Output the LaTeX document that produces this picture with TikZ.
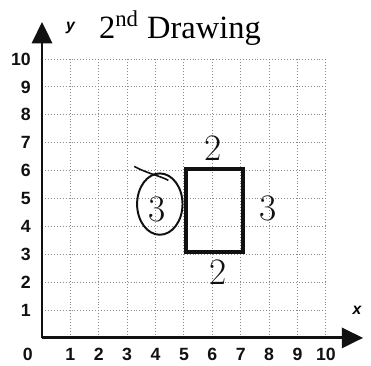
\documentclass[tikz,border=0pt]{standalone}
\usepackage{fontspec}
\usepackage{tikz}
\usetikzlibrary{arrows.meta, positioning, calc}
\newfontfamily\numfont{Liberation Sans}
\newfontfamily\titlefont{Liberation Serif}
\definecolor{gridc}{HTML}{8A8A8A}
\definecolor{ink}{HTML}{111111}

\begin{document}
\begin{tikzpicture}[
        x=0.507cm, y=0.498cm,
        grd/.style={gridc, densely dotted, line width=0.5pt},
        ax/.style={ink, line width=1.5pt, -{Triangle[length=3.8mm, width=3.6mm]}},
        num/.style={font=\numfont\fontsize{9}{10}\selectfont\bfseries, text=ink},
        hand/.style={font=\fontsize{19}{20}\selectfont, text=ink},
        shp/.style={ink, line width=2pt},
      ]
      \useasboundingbox (-1.48,-1.0) rectangle (11.59,12.12);

      % Grid
      \foreach \i in {1,...,10} {
        \draw[grd] (\i,0) -- (\i,10);
        \draw[grd] (0,\i) -- (10,\i);
      }

      % Axes
      \coordinate (O) at (0,0);
      \coordinate (xend) at (11.31,0);
      \coordinate (yend) at (0,11.33);
      \draw[ax] (O) -- (xend);
      \draw[ax] (O) -- (yend);
      \node[font=\numfont\itshape\fontsize{8}{9}\selectfont\bfseries] (xlab) at (11.1,1.0) {x};
      \node[font=\numfont\itshape\fontsize{8}{9}\selectfont\bfseries] (ylab) at (1.0,11.1) {y};

      % Tick labels
      \node[num] (zero) at (-0.5,-0.6) {0};
      \foreach \i in {1,...,10} {
        \node[num] (xt\i) at (\i,-0.6) {\i};
        \node[num, anchor=east] (yt\i) at (-0.15,\i) {\i};
      }

      % Title
      \node[font=\titlefont\fontsize{16.5}{18}\selectfont] (title) at (4.86,11.1)
        {2\textsuperscript{nd} Drawing};

      % Rectangle 2 by 3
      \node[shp, draw, inner sep=0pt, minimum width=2*0.507cm, minimum height=3*0.498cm,
            anchor=south west] (rect) at (5,3) {};

      % Handwritten side lengths
      \node[hand] (top) at (6.02,6.8) {2};
      \node[hand] (bot) at (6.2,2.35) {2};
      \node[hand] (rgt) at (7.96,4.65) {3};
      \node[hand] (lft) at (4.05,4.6) {3};
      \draw[ink, line width=1pt] (4.15,4.8) ellipse [x radius=0.8, y radius=1.1];
      \draw[ink, line width=0.8pt] (3.25,6.15) .. controls (3.7,5.9) and (4.2,5.8) .. (4.45,5.65);
      \end{tikzpicture}
\end{document}
